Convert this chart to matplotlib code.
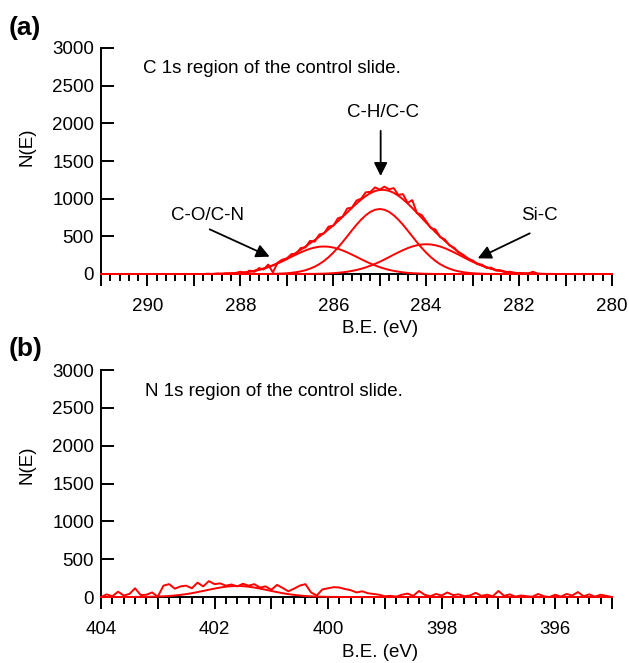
import numpy as np
import matplotlib.pyplot as plt
from matplotlib.ticker import MultipleLocator, FuncFormatter

plt.rcParams['font.family'] = ['Liberation Sans', 'DejaVu Sans']
plt.rcParams['font.size'] = 13.5

# ---- C 1s (panel a) ----
c_be = np.linspace(291.0, 280.0, 111)          # raw scan, 0.1 eV step
c_raw = [0] * 22 + [
    0, 3, 0, 6, 2, 9, 4, 14, 30, 12,            # 288.8 .. 287.9
    45, 28, 78, 60, 125, 20, 150, 190, 205, 265,  # 287.8 .. 286.9
    270, 345, 352, 440, 430, 525, 540, 630, 640, 740,  # 286.8 .. 285.9
    760, 870, 880, 975, 1000, 1085, 1090, 1150, 1120, 1160,  # 285.8 .. 284.9
    1125, 1140, 1050, 1060, 945, 980, 810, 785, 700, 610,  # 284.8 .. 283.9
    590, 490, 460, 380, 350, 285, 255, 200, 180, 130,  # 283.8 .. 282.9
    125, 80, 85, 45, 50, 25, 30, 10, 15, 3,      # 282.8 .. 281.9
    8, 30, 5,                                   # 281.8 .. 281.6
] + [0] * 16

c_fit_be = np.linspace(288.8, 281.2, 77)       # fit components, 0.1 eV step
c_ch = [0, 0, 0, 0, 0, 0, 0, 0, 0, 0,
        0, 0, 0, 1, 1, 2, 4, 7, 10, 16,
        24, 35, 50, 71, 97, 131, 173, 224, 283, 350,
        423, 500, 578, 654, 722, 780, 825, 853, 863, 853,
        825, 780, 722, 654, 578, 500, 423, 350, 283, 224,
        173, 131, 97, 71, 50, 35, 24, 16, 10, 7,
        4, 2, 1, 1, 0, 0, 0, 0, 0, 0,
        0, 0, 0, 0, 0, 0, 0]
c_co = [0, 1, 1, 2, 3, 5, 8, 11, 16, 22,
        31, 42, 55, 72, 91, 114, 139, 167, 197, 228,
        258, 287, 313, 335, 351, 362, 365, 362, 351, 335,
        313, 287, 258, 228, 197, 167, 139, 114, 91, 72,
        55, 42, 31, 22, 16, 11, 8, 5, 3, 2,
        1, 1, 0, 0, 0, 0, 0, 0, 0, 0,
        0, 0, 0, 0, 0, 0, 0, 0, 0, 0,
        0, 0, 0, 0, 0, 0, 0]
c_sic = [0, 0, 0, 0, 0, 0, 0, 0, 0, 0,
         0, 0, 0, 0, 0, 0, 0, 0, 0, 0,
         0, 1, 1, 2, 2, 4, 5, 8, 11, 16,
         22, 30, 41, 53, 69, 88, 110, 135, 162, 192,
         224, 256, 287, 316, 343, 365, 381, 392, 395, 392,
         381, 365, 343, 316, 287, 256, 224, 192, 162, 135,
         110, 88, 69, 53, 41, 30, 22, 16, 11, 8,
         5, 4, 2, 2, 1, 1, 0]

# ---- N 1s (panel b) ----
n_be = np.linspace(404.0, 395.0, 91)
n_raw = [0, 35, 10, 70, 20, 40, 115, 25, 30, 60, 5,
         150, 170, 110, 140, 150, 115, 190, 140, 210, 170,
         180, 150, 165, 140, 175, 150, 170, 125, 140, 95,
         160, 120, 75, 110, 150, 170, 60, 20, 100, 115,
         130, 125, 105, 90, 60, 75, 50, 40, 30, 10,
         15, 5, 30, 45, 15, 80, 30, 10, 40, 20,
         60, 25, 35, 10, 20, 55, 15, 30, 10, 80,
         15, 35, 5, 20, 10, 5, 40, 10, 0, 30,
         5, 40, 20, 65, 10, 35, 5, 30, 15, 0]
n_fit_be = np.linspace(403.6, 399.6, 41)
n_fit = [0, 0, 1, 1, 2, 4, 6, 9, 13, 20,
         28, 38, 50, 65, 80, 96, 111, 125, 136, 143,
         145, 143, 136, 125, 111, 96, 80, 65, 50, 38,
         28, 20, 13, 9, 6, 4, 2, 1, 1, 0, 0]

RED = '#ff0000'
LW = 1.4
W, H = 629, 663
fig = plt.figure(figsize=(W / 100, H / 100), dpi=100)
ax1 = fig.add_axes([101 / W, 1 - 274 / H, 511 / W, 226 / H])
ax2 = fig.add_axes([101 / W, 1 - 597 / H, 511 / W, 227 / H])


def even_label(v, pos):
    r = int(round(v))
    return str(r) if r % 2 == 0 else ''


def style(ax, lo, hi, ylab_y):
    ax.set_xlim(lo, hi)
    ax.set_ylim(0, 3000)
    ax.spines['top'].set_visible(False)
    ax.spines['right'].set_visible(False)
    for s in ('left', 'bottom'):
        ax.spines[s].set_linewidth(1.4)
    ax.xaxis.set_major_locator(MultipleLocator(1))
    ax.xaxis.set_minor_locator(MultipleLocator(0.2))
    ax.xaxis.set_major_formatter(FuncFormatter(even_label))
    ax.yaxis.set_major_locator(MultipleLocator(500))
    ax.tick_params(axis='x', which='major', direction='out', length=8.6, width=1.4, pad=8.5)
    ax.tick_params(axis='x', which='minor', direction='out', length=4.8, width=1.4)
    ax.tick_params(axis='y', which='major', direction='in', length=9, width=1.4, pad=5)
    ax.set_ylabel('N(E)')
    ax.yaxis.set_label_coords(-0.129, ylab_y)
    ax.set_xlabel('B.E. (eV)')
    ax.xaxis.set_label_coords(0.546, -0.205)


# panel (a)
ax1.plot(c_be, c_raw, color=RED, lw=LW, clip_on=False, zorder=3)
xf = np.r_[291.0, c_fit_be, 280.0]
for comp in (c_ch, c_co, c_sic):
    ax1.plot(xf, np.r_[0, comp, 0], color=RED, lw=LW, clip_on=False, zorder=3)
env = np.array(c_ch) + np.array(c_co) + np.array(c_sic)
ax1.plot(xf, np.r_[0, env, 0], color=RED, lw=LW, clip_on=False, zorder=3)
style(ax1, 291, 280, 0.562)
ax1.text(0.082, 0.9115, 'C 1s region of the control slide.', transform=ax1.transAxes,
         ha='left', va='center')

arrow = dict(arrowstyle='-|>', color='black', lw=1.3, mutation_scale=20,
             shrinkA=0, shrinkB=0)
ax1.text(284.94, 2150, 'C-H/C-C', ha='center', va='center')
ax1.annotate('', xy=(284.98, 1300), xytext=(284.98, 1900), arrowprops=arrow)
ax1.text(288.71, 783, 'C-O/C-N', ha='center', va='center')
ax1.annotate('', xy=(287.37, 230), xytext=(288.66, 593), arrowprops=arrow)
ax1.text(281.57, 770, 'Si-C', ha='center', va='center')
ax1.annotate('', xy=(282.89, 208), xytext=(281.77, 540), arrowprops=arrow)

# panel (b)
ax2.plot(n_be, n_raw, color=RED, lw=LW, clip_on=False, zorder=3)
ax2.plot(np.r_[404.0, n_fit_be, 395.0], np.r_[0, n_fit, 0], color=RED, lw=LW,
         clip_on=False, zorder=3)
style(ax2, 404, 395, 0.581)
ax2.text(0.086, 0.904, 'N 1s region of the control slide.', transform=ax2.transAxes,
         ha='left', va='center')

fig.text(9 / W, 1 - 28 / H, '(a)', fontsize=19, fontweight='bold', ha='left', va='center')
fig.text(9 / W, 1 - 349 / H, '(b)', fontsize=19, fontweight='bold', ha='left', va='center')

fig.savefig('out.png', dpi=100)
